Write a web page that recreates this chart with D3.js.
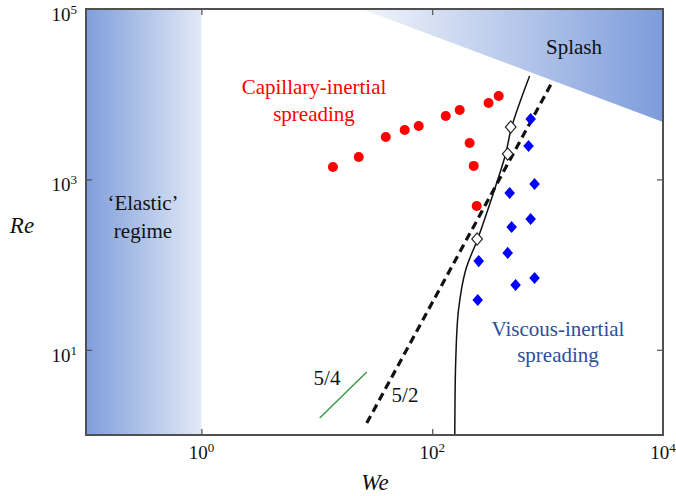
<html>
<head>
<meta charset="utf-8">
<style>
  body { margin: 0; background: #fff; }
</style>
</head>
<body>
<script src="https://cdn.jsdelivr.net/npm/d3@7"></script>
<script>
// data (We, Re)
var capWe = [13.8, 23.1, 39.6, 57.8, 76.4, 131, 173, 308, 377, 211, 229, 243];
var capRe = [1400, 1830, 3150, 3800, 4240, 5550, 6530, 7880, 9520, 2670, 1440, 488];

var viscWe = [713, 684, 771, 469, 713, 488, 451, 253, 771, 528, 248];
var viscRe = [5120, 2466, 883, 692, 343, 276, 137, 110, 69.6, 57.6, 38.4];

var openWe = [479, 451, 245];
var openRe = [4120, 1990, 200];

// solid boundary curve
var curveWe = [698, 488, 433, 369, 303, 248, 195, 169, 160, 157];
var curveRe = [16360, 4120, 1990, 984, 437, 200, 86.4, 29.3, 7.59, 1.03];

// 5/2 dashed and 5/4 green guide lines
var dashWe = [27.1, 1084];
var dashRe = [1.38, 13500];
var greenWe = [10.6, 27.1];
var greenRe = [1.58, 5.49];

// regime regions
var elasticWe = [0.1, 1];
var splashWe = [24.5, 10000, 10000];
var splashRe = [100000, 100000, 4720];

var xTicks = [1, 100, 10000];
var xTickExp = ["0", "2", "4"];
var yTicks = [10, 1000, 100000];
var yTickExp = ["1", "3", "5"];

var W = 676, H = 496;
var svg = d3.select("body").append("svg")
    .attr("width", W)
    .attr("height", H)
    .attr("font-family", "'Liberation Serif', 'Times New Roman', 'DejaVu Serif', serif");

var x = d3.scaleLog().domain([0.1, 10000]).range([86, 663]);
var y = d3.scaleLog().domain([1, 100000]).range([435, 9]);

var defs = svg.append("defs");
var g1 = defs.append("linearGradient").attr("id", "elastic")
    .attr("x1", "0%").attr("x2", "100%").attr("y1", "0%").attr("y2", "0%");
g1.append("stop").attr("offset", "0%").attr("stop-color", "#7f9edb");
g1.append("stop").attr("offset", "100%").attr("stop-color", "#e2e9f6");

var g2 = defs.append("linearGradient").attr("id", "splash")
    .attr("x1", "0%").attr("x2", "100%").attr("y1", "0%").attr("y2", "0%");
g2.append("stop").attr("offset", "0%").attr("stop-color", "#f2f5fb");
g2.append("stop").attr("offset", "100%").attr("stop-color", "#7d9cdb");

defs.append("clipPath").attr("id", "plot").append("rect")
    .attr("x", x(0.1)).attr("y", y(100000))
    .attr("width", x(10000) - x(0.1)).attr("height", y(1) - y(100000));

var gp = svg.append("g").attr("clip-path", "url(#plot)");

// elastic band
gp.append("rect")
    .attr("x", x(elasticWe[0]))
    .attr("y", y(100000))
    .attr("width", x(elasticWe[1]) - x(elasticWe[0]))
    .attr("height", y(1) - y(100000))
    .attr("fill", "url(#elastic)");

// splash region
var splashPts = splashWe.map((d, i) => [x(d), y(splashRe[i])]);
gp.append("path")
    .attr("d", "M" + splashPts.join("L") + "Z")
    .attr("fill", "url(#splash)");

// guide lines
var line = d3.line().x(d => x(d[0])).y(d => y(d[1]));
gp.append("path")
    .datum(greenWe.map((d, i) => [d, greenRe[i]]))
    .attr("d", line)
    .attr("fill", "none").attr("stroke", "#3c9c45").attr("stroke-width", 1.5);

gp.append("path")
    .datum(dashWe.map((d, i) => [d, dashRe[i]]))
    .attr("d", line)
    .attr("fill", "none").attr("stroke", "#111").attr("stroke-width", 3.2)
    .attr("stroke-dasharray", "8,5");

gp.append("path")
    .datum(curveWe.map((d, i) => [d, curveRe[i]]))
    .attr("d", d3.line().x(d => x(d[0])).y(d => y(d[1])).curve(d3.curveCatmullRom.alpha(0.5)))
    .attr("fill", "none").attr("stroke", "#111").attr("stroke-width", 1.5);

// data points
gp.selectAll("circle.cap")
    .data(capWe.map((d, i) => [d, capRe[i]]))
    .join("circle")
    .attr("class", "cap")
    .attr("cx", d => x(d[0])).attr("cy", d => y(d[1]))
    .attr("r", 5)
    .attr("fill", "#ff0000");

var diamond = d3.symbol().type(d3.symbolSquare).size(56);
gp.selectAll("path.visc")
    .data(viscWe.map((d, i) => [d, viscRe[i]]))
    .join("path")
    .attr("class", "visc")
    .attr("d", diamond)
    .attr("transform", d => "translate(" + x(d[0]) + "," + y(d[1]) + ") scale(1,1.15) rotate(45)")
    .attr("fill", "#0000ff");

gp.selectAll("path.open")
    .data(openWe.map((d, i) => [d, openRe[i]]))
    .join("path")
    .attr("class", "open")
    .attr("d", d3.symbol().type(d3.symbolSquare).size(56))
    .attr("transform", d => "translate(" + x(d[0]) + "," + y(d[1]) + ") scale(1,1.15) rotate(45)")
    .attr("fill", "#fff")
    .attr("stroke", "#222")
    .attr("stroke-width", 1.1);

// frame and ticks
var frame = svg.append("g").attr("fill", "none").attr("stroke", "#505050");
frame.append("rect")
    .attr("x", x(0.1)).attr("y", y(100000))
    .attr("width", x(10000) - x(0.1)).attr("height", y(1) - y(100000))
    .attr("stroke-width", 2);

svg.append("g").attr("transform", "translate(0," + y(1) + ")")
    .call(d3.axisBottom(x).tickValues(xTicks.slice(0, 2)).tickSize(-6).tickFormat(""))
    .call(g => g.select(".domain").remove());
svg.append("g").attr("transform", "translate(0," + y(100000) + ")")
    .call(d3.axisTop(x).tickValues(xTicks.slice(0, 2)).tickSize(-6).tickFormat(""))
    .call(g => g.select(".domain").remove());
svg.append("g").attr("transform", "translate(" + x(0.1) + ",0)")
    .call(d3.axisLeft(y).tickValues(yTicks.slice(0, 2)).tickSize(-6).tickFormat(""))
    .call(g => g.select(".domain").remove());
svg.append("g").attr("transform", "translate(" + x(10000) + ",0)")
    .call(d3.axisRight(y).tickValues(yTicks.slice(0, 2)).tickSize(-6).tickFormat(""))
    .call(g => g.select(".domain").remove());
svg.selectAll(".tick line").attr("stroke", "#505050").attr("stroke-width", 1.2);

// tick labels with superscripts
xTicks.forEach(function(v, i) {
  var t = svg.append("text")
      .attr("x", x(v)).attr("y", 459)
      .attr("text-anchor", "middle")
      .attr("font-size", 19).attr("fill", "#111");
  t.append("tspan").text("10");
  t.append("tspan").attr("font-size", 13).attr("dy", -7).text(xTickExp[i]);
});
yTicks.forEach(function(v, i) {
  var t = svg.append("text")
      .attr("x", 77).attr("y", y(v) + 12)
      .attr("text-anchor", "end")
      .attr("font-size", 19).attr("fill", "#111");
  t.append("tspan").text("10");
  t.append("tspan").attr("font-size", 13).attr("dy", -7).text(yTickExp[i]);
});

// axis titles
svg.append("text").attr("x", 22).attr("y", 225).attr("dy", "0.35em")
    .attr("text-anchor", "middle").attr("font-size", 23).attr("font-style", "italic")
    .attr("fill", "#111").text("Re");
svg.append("text").attr("x", 375).attr("y", 482).attr("dy", "0.35em")
    .attr("text-anchor", "middle").attr("font-size", 23).attr("font-style", "italic")
    .attr("fill", "#111").text("We");

// annotations
function label(px, py, txt, col, size) {
  svg.append("text").attr("x", px).attr("y", py).attr("dy", "0.35em")
      .attr("text-anchor", "middle").attr("font-size", size || 21)
      .attr("fill", col).text(txt);
}
label(314, 87, "Capillary-inertial", "#ff0000");
label(314, 114, "spreading", "#ff0000");
label(143, 203, "\u2018Elastic\u2019", "#111");
label(143, 231, "regime", "#111");
label(574, 47, "Splash", "#111");
label(558, 329, "Viscous-inertial", "#2b4f9c");
label(558, 355, "spreading", "#2b4f9c");
label(327, 378, "5/4", "#111");
label(405, 395, "5/2", "#111");
</script>
</body>
</html>
